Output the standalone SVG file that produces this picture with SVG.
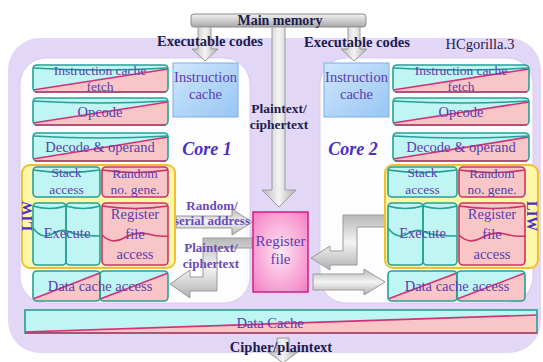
<svg xmlns="http://www.w3.org/2000/svg" width="543" height="362" viewBox="0 0 543 362">
<defs>
<linearGradient id="gMem" x1="0" y1="0" x2="0" y2="1"><stop offset="0" stop-color="#f2f2f2"/><stop offset="1" stop-color="#a8a8a8"/></linearGradient>
<linearGradient id="gArrV" x1="0" y1="0" x2="1" y2="0"><stop offset="0" stop-color="#b8b8b8"/><stop offset="0.5" stop-color="#f4f4f4"/><stop offset="1" stop-color="#b0b0b0"/></linearGradient>
<linearGradient id="gArrH" x1="0" y1="0" x2="0" y2="1"><stop offset="0" stop-color="#b8b8b8"/><stop offset="0.5" stop-color="#f4f4f4"/><stop offset="1" stop-color="#b0b0b0"/></linearGradient>
<linearGradient id="gIC" x1="0" y1="0" x2="1" y2="1"><stop offset="0" stop-color="#cfe6fc"/><stop offset="1" stop-color="#98c6f4"/></linearGradient>
<radialGradient id="gRF" cx="0.5" cy="0.5" r="0.7"><stop offset="0" stop-color="#fde8f4"/><stop offset="1" stop-color="#f47cc4"/></radialGradient>
</defs>
<style>
text{font-family:'Liberation Serif','Times New Roman','DejaVu Serif',serif}
.t{font-size:14.5px;fill:#5b3cb0;text-anchor:middle}
.s{font-size:13.5px}
.lb{font-size:14.5px;font-weight:bold;fill:#1c1c50;text-anchor:middle}
.core{font-size:18px;font-weight:bold;font-style:italic;fill:#4a2ec8;text-anchor:middle}
.al{font-size:13px;font-weight:bold;fill:#6a4ab8;text-anchor:middle}
.cy{fill:#bff5f3}
.pk{fill:#f8c6c6}
.ol{fill:none;stroke:#27a096;stroke-width:1.6}
.olp{fill:none;stroke:#cc3366;stroke-width:1.6}
.dg{fill:none;stroke:#d4307a;stroke-width:1.6}
.arr{fill:url(#gArrH);stroke:#9a9a9a;stroke-width:1}
.arrv{fill:url(#gArrV);stroke:#9a9a9a;stroke-width:1}
.liw{fill:#fdf7a8;stroke:#f0c030;stroke-width:2}
.ic{fill:url(#gIC);stroke:#7ab0e8;stroke-width:1}
</style>
<rect width="543" height="362" fill="#ffffff"/>
<rect x="8" y="38" width="533" height="315" rx="32" fill="#e3d7f7"/>
<rect x="20" y="58" width="230" height="245" rx="26" fill="#fdfdff" stroke="#d8cce8"/>
<rect x="320" y="58" width="213" height="245" rx="26" fill="#fdfdff" stroke="#d8cce8"/>

<g id="main-memory">
<rect x="191" y="14" width="175" height="13" rx="3" fill="url(#gMem)" stroke="#8a8a8a"/>
<text class="lb" x="280" y="25" style="font-size:14px">Main memory</text>
</g>

<g id="connectors">
<path class="arrv" d="M198,27 V49 H192 L205,61 L218,49 H211 V27 Z"/>
<path class="arrv" d="M348,27 V49 H341 L354,61 L367,49 H360 V27 Z"/>
<path class="arrv" d="M272,27 V190 H262 L279,207 L296,190 H285 V27 Z"/>
<path class="arr" d="M176,216 H232 V209 L252,222 L232,235 V228 H176 Z"/>
<path class="arr" d="M252,238 H203 V277 H190 V270 L170,284 L190,298 V291 H217 V248 H252 Z"/>
<path class="arr" d="M386,215 H343 V251 H330 V246 L311,258 L330,270 V265 H357 V227 H386 Z"/>
<path class="arr" d="M313,274 H364 V269 L385,282 L364,295 V290 H313 Z"/>
<path class="arrv" d="M277,338 V352 H268 L283,363 L298,352 H289 V338 Z"/>
</g>

<g id="labels">
<text class="lb" x="210" y="46">Executable codes</text>
<text class="lb" x="357" y="47">Executable codes</text>
<text x="480" y="49" style="font-size:14.5px;fill:#1c1c50;text-anchor:middle">HCgorilla.3</text>
<text class="lb" x="279" y="113" style="font-size:13.5px">Plaintext/</text>
<text class="lb" x="279" y="129" style="font-size:13.5px">ciphertext</text>
<text class="core" x="207" y="155">Core 1</text>
<text class="core" x="353" y="155">Core 2</text>
<text class="al" x="212" y="210">Random/</text>
<text class="al" x="212" y="225">serial address</text>
<text class="al" x="211" y="252">Plaintext/</text>
<text class="al" x="211" y="268">ciphertext</text>
<text class="lb" x="281" y="352">Cipher/plaintext</text>
</g>

<!-- Core 1 -->
<g id="ic-fetch-1">
<rect class="pk" x="33" y="65" width="135" height="27" rx="4"/>
<polygon class="cy" points="33,65 168,65 168,69 33,90"/>
<line class="dg" x1="33" y1="90" x2="168" y2="69"/>
<rect class="ol" x="33" y="65" width="135" height="27" rx="4"/>
<path class="ol" d="M33,68 Q100,72 168,68"/>
<path class="olp" d="M35,92 H166"/>
<text class="t s" x="100" y="75">Instruction cache</text>
<text class="t s" x="100" y="91">fetch</text>
</g>
<g id="opcode-1">
<rect class="pk" x="33" y="98" width="135" height="27" rx="4"/>
<polygon class="cy" points="33,98 168,98 168,102 33,123"/>
<line class="dg" x1="33" y1="123" x2="168" y2="102"/>
<rect class="ol" x="33" y="98" width="135" height="27" rx="4"/>
<path class="ol" d="M33,101 Q100,105 168,101"/>
<path class="olp" d="M35,125 H166"/>
<text class="t" x="100" y="117">Opcode</text>
</g>
<g id="decode-1">
<rect class="pk" x="33" y="133" width="135" height="28" rx="4"/>
<polygon class="cy" points="33,133 168,133 168,137 33,159"/>
<line class="dg" x1="33" y1="159" x2="168" y2="137"/>
<rect class="ol" x="33" y="133" width="135" height="28" rx="4"/>
<path class="ol" d="M33,136 Q100,140 168,136"/>
<path class="olp" d="M35,161 H166"/>
<text class="t" x="100" y="152">Decode &amp; operand</text>
</g>
<g id="icache-1">
<rect class="ic" x="173" y="63" width="65" height="54"/>
<text class="t" x="205.5" y="82">Instruction</text>
<text class="t" x="205.5" y="99">cache</text>
</g>
<g id="liw-1">
<rect class="liw" x="22" y="165" width="153" height="103" rx="8"/>
<text class="t" transform="translate(32,216) rotate(-90)" style="font-weight:bold;fill:#4a2ec8">LIW</text>
</g>
<g id="stack-1">
<rect class="cy" x="33" y="167" width="67" height="30" rx="4"/>
<rect class="ol" x="33" y="167" width="67" height="30" rx="4"/>
<path class="ol" d="M33,170 Q66,175 100,170"/>
<text class="t s" x="66.5" y="177">Stack</text>
<text class="t s" x="66.5" y="194">access</text>
</g>
<g id="random-1">
<rect class="pk" x="102" y="167" width="66" height="30" rx="4"/>
<rect class="olp" x="102" y="167" width="66" height="30" rx="4"/>
<path class="olp" d="M102,170 Q135,175 168,170"/>
<text class="t s" x="135" y="178">Random</text>
<text class="t s" x="135" y="194">no. gene.</text>
</g>
<g id="execute-1">
<rect class="cy" x="33" y="203" width="67" height="62" rx="4"/>
<rect class="ol" x="33" y="203" width="33" height="62" rx="4"/>
<rect class="ol" x="66" y="203" width="34" height="62" rx="4"/>
<path class="ol" d="M33,206 Q50,211 66,206 Q83,211 100,206"/>
<path class="ol" d="M33,228 Q42,240 52,234 T70,232 T100,236"/>
<text class="t" x="67" y="238">Execute</text>
</g>
<g id="regaccess-1">
<rect class="pk" x="102" y="203" width="66" height="62" rx="4"/>
<rect class="olp" x="102" y="203" width="66" height="62" rx="4"/>
<path class="olp" d="M102,206 Q135,211 168,206"/>
<path class="olp" d="M102,235 Q112,245 124,238 T148,234 T168,236"/>
<text class="t" x="135" y="219">Register</text>
<text class="t" x="135" y="239">file</text>
<text class="t" x="135" y="259">access</text>
</g>
<g id="dcache-access-1">
<rect class="pk" x="33" y="271" width="135" height="30" rx="4"/>
<polygon class="cy" points="33,271 100,271 100,273 33,299"/>
<polygon class="cy" points="100,271 168,271 168,273 100,299"/>
<line class="dg" x1="33" y1="299" x2="100" y2="273"/>
<line class="dg" x1="100" y1="299" x2="168" y2="273"/>
<rect class="ol" x="33" y="271" width="67" height="30" rx="4"/>
<rect class="ol" x="100" y="271" width="68" height="30" rx="4"/>
<text class="t" x="100" y="291">Data cache access</text>
</g>

<!-- Core 2 -->
<g id="icache-2">
<rect class="ic" x="324" y="63" width="65" height="54"/>
<text class="t" x="356.5" y="82">Instruction</text>
<text class="t" x="356.5" y="99">cache</text>
</g>
<g id="ic-fetch-2">
<rect class="pk" x="393" y="65" width="136" height="27" rx="4"/>
<polygon class="cy" points="393,65 529,65 529,69 393,90"/>
<line class="dg" x1="393" y1="90" x2="529" y2="69"/>
<rect class="ol" x="393" y="65" width="136" height="27" rx="4"/>
<path class="ol" d="M393,68 Q461,72 529,68"/>
<path class="olp" d="M395,92 H527"/>
<text class="t s" x="461" y="75">Instruction cache</text>
<text class="t s" x="461" y="91">fetch</text>
</g>
<g id="opcode-2">
<rect class="pk" x="393" y="98" width="136" height="27" rx="4"/>
<polygon class="cy" points="393,98 529,98 529,102 393,123"/>
<line class="dg" x1="393" y1="123" x2="529" y2="102"/>
<rect class="ol" x="393" y="98" width="136" height="27" rx="4"/>
<path class="ol" d="M393,101 Q461,105 529,101"/>
<path class="olp" d="M395,125 H527"/>
<text class="t" x="461" y="117">Opcode</text>
</g>
<g id="decode-2">
<rect class="pk" x="393" y="133" width="136" height="28" rx="4"/>
<polygon class="cy" points="393,133 529,133 529,137 393,159"/>
<line class="dg" x1="393" y1="159" x2="529" y2="137"/>
<rect class="ol" x="393" y="133" width="136" height="28" rx="4"/>
<path class="ol" d="M393,136 Q461,140 529,136"/>
<path class="olp" d="M395,161 H527"/>
<text class="t" x="461" y="152">Decode &amp; operand</text>
</g>
<g id="liw-2">
<rect class="liw" x="385" y="165" width="153" height="103" rx="8"/>
<text class="t" transform="translate(527,216) rotate(90)" style="font-weight:bold;fill:#4a2ec8">LIW</text>
</g>
<g id="stack-2">
<rect class="cy" x="388" y="167" width="69" height="30" rx="4"/>
<rect class="ol" x="388" y="167" width="69" height="30" rx="4"/>
<path class="ol" d="M388,170 Q422,175 457,170"/>
<text class="t s" x="422.5" y="177">Stack</text>
<text class="t s" x="422.5" y="194">access</text>
</g>
<g id="random-2">
<rect class="pk" x="459" y="167" width="66" height="30" rx="4"/>
<rect class="olp" x="459" y="167" width="66" height="30" rx="4"/>
<path class="olp" d="M459,170 Q492,175 525,170"/>
<text class="t s" x="492" y="178">Random</text>
<text class="t s" x="492" y="194">no. gene.</text>
</g>
<g id="execute-2">
<rect class="cy" x="388" y="203" width="69" height="62" rx="4"/>
<rect class="ol" x="388" y="203" width="35" height="62" rx="4"/>
<rect class="ol" x="423" y="203" width="34" height="62" rx="4"/>
<path class="ol" d="M388,206 Q405,211 423,206 Q440,211 457,206"/>
<path class="ol" d="M388,228 Q397,240 407,234 T425,232 T457,236"/>
<text class="t" x="422.5" y="238">Execute</text>
</g>
<g id="regaccess-2">
<rect class="pk" x="459" y="203" width="66" height="62" rx="4"/>
<rect class="olp" x="459" y="203" width="66" height="62" rx="4"/>
<path class="olp" d="M459,206 Q492,211 525,206"/>
<path class="olp" d="M459,235 Q469,245 481,238 T505,234 T525,236"/>
<text class="t" x="492" y="219">Register</text>
<text class="t" x="492" y="239">file</text>
<text class="t" x="492" y="259">access</text>
</g>
<g id="dcache-access-2">
<rect class="pk" x="388" y="271" width="137" height="30" rx="4"/>
<polygon class="cy" points="388,271 457,271 457,273 388,299"/>
<polygon class="cy" points="457,271 525,271 525,273 457,299"/>
<line class="dg" x1="388" y1="299" x2="457" y2="273"/>
<line class="dg" x1="457" y1="299" x2="525" y2="273"/>
<rect class="ol" x="388" y="271" width="69" height="30" rx="4"/>
<rect class="ol" x="457" y="271" width="68" height="30" rx="4"/>
<text class="t" x="457" y="291">Data cache access</text>
</g>

<g id="register-file">
<rect x="253" y="212" width="55" height="80" fill="url(#gRF)" stroke="#d02080" stroke-width="1.5"/>
<text class="t" x="280.5" y="246" style="font-size:15px">Register</text>
<text class="t" x="280.5" y="264" style="font-size:15px">file</text>
</g>

<g id="data-cache">
<rect class="pk" x="25" y="310" width="512" height="23"/>
<polygon class="cy" points="25,310 537,310 537,315 25,331"/>
<line class="dg" x1="25" y1="332" x2="537" y2="315"/>
<rect x="25" y="310" width="512" height="23" fill="none" stroke="#27a096" stroke-width="1.6"/>
<line x1="25" y1="333" x2="537" y2="333" stroke="#cc3366" stroke-width="1.6"/>
<text class="t" x="270" y="328">Data Cache</text>
</g>
</svg>
